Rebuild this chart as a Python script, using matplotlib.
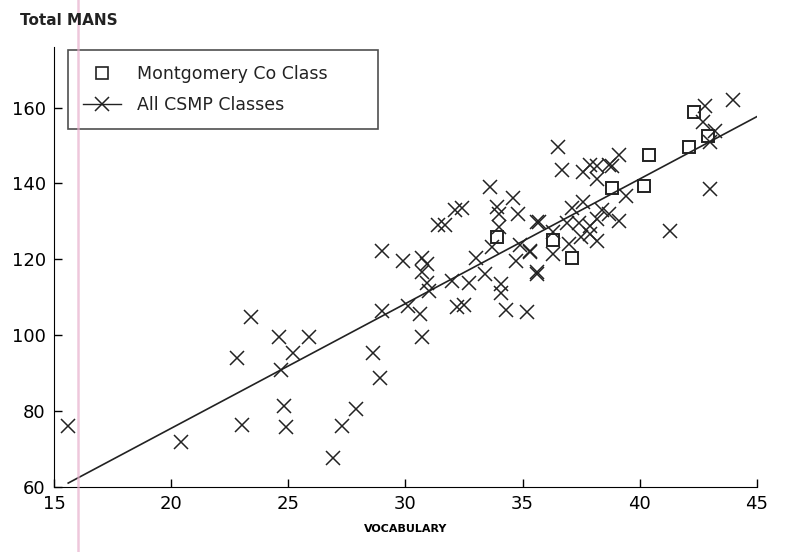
import matplotlib
matplotlib.use('Agg')
import matplotlib.pyplot as plt
from matplotlib.lines import Line2D

# Montgomery Co classes (squares)
mont_x = [33.9, 36.3, 37.1, 38.8, 40.4, 40.2, 42.1, 42.3, 42.9]
mont_y = [125.9, 125.1, 120.3, 138.8, 147.6, 139.4, 149.7, 158.9, 152.6]

# all CSMP classes (x markers)
csmp_x = [15.6, 20.4, 22.8, 23.0, 23.4, 24.6, 24.7, 24.8, 24.9, 25.2, 25.9, 26.9,
          27.3, 27.9, 28.6, 28.9, 29.0, 29.0, 29.9, 30.1, 30.7, 30.6, 30.7, 30.9,
          30.7, 30.9, 31.0, 33.6, 34.6, 32.1, 32.4, 33.9, 34.0, 34.8, 31.4, 31.7,
          34.0, 35.6, 33.7, 33.0, 32.0, 32.7, 33.4, 34.1, 34.1, 34.7, 35.3, 35.6,
          34.9, 32.2, 32.5, 34.3, 35.2, 44.0, 42.8, 42.7, 43.0, 43.2, 43.0, 41.3,
          36.5, 36.7, 37.6, 37.9, 38.2, 38.7, 39.1, 38.8, 38.2, 39.4, 37.1, 37.6,
          38.4, 38.7, 39.1, 35.7, 36.9, 37.4, 37.9, 38.2, 36.3, 37.5, 37.9, 38.2,
          37.0, 36.3, 35.3, 35.6]
csmp_y = [76.1, 71.9, 94.1, 76.4, 104.7, 99.4, 90.7, 81.4, 75.9, 95.2, 99.4, 67.7,
          76.1, 80.4, 95.2, 88.8, 122.2, 106.3, 119.5, 107.6, 99.4, 105.5, 120.3, 118.7,
          116.6, 113.7, 111.6, 139.1, 136.2, 133.0, 133.5, 133.8, 132.0, 132.0, 129.0, 129.0,
          128.5, 129.8, 123.2, 120.3, 114.2, 113.7, 116.1, 113.4, 111.1, 119.5, 121.9, 116.1,
          123.8, 107.4, 107.9, 106.6, 106.0, 162.1, 160.3, 156.3, 151.0, 153.7, 138.6, 127.5,
          149.7, 143.6, 143.1, 144.9, 144.7, 144.9, 147.6, 144.7, 141.2, 136.7, 133.5, 135.1,
          133.0, 132.0, 130.1, 129.8, 129.6, 129.6, 128.8, 130.6, 127.2, 125.9, 126.7, 124.8,
          124.0, 121.4, 122.2, 116.6]

# regression line end points
fit_x = [15.6, 45.0]
fit_y = [61.0, 157.6]

xticks = [15, 20, 25, 30, 35, 40, 45]
yticks = [60, 80, 100, 120, 140, 160]

fig = plt.figure(figsize=(7.85, 5.52), dpi=100)
ax = fig.add_axes([0.069, 0.118, 0.895, 0.797])

ax.plot(fit_x, fit_y, color='#222222', lw=1.2)
ax.plot(csmp_x, csmp_y, 'x', color='#222222', ms=9.5, mew=1.1, label='All CSMP Classes')
ax.plot(mont_x, mont_y, 's', color='#222222', ms=9, mfc='none', mew=1.4,
        label='Montgomery Co Class')

ax.set_xlim(15, 45)
ax.set_ylim(60, 176)
ax.set_xticks(xticks)
ax.set_yticks(yticks)
ax.tick_params(direction='in', length=6, labelsize=13, width=1, pad=6)
ax.spines['top'].set_visible(False)
ax.spines['right'].set_visible(False)
ax.set_xlabel('VOCABULARY', fontsize=8, fontweight='bold', labelpad=8)

# legend box stretched to the width seen in the scan
h_mont = Line2D([], [], marker='s', ls='none', color='#222222', mfc='none', ms=8, mew=1.2)
h_csmp = Line2D([], [], marker='x', ls='-', color='#222222', ms=10, mew=1.1, lw=1)
leg = ax.legend([h_mont, h_csmp], ['Montgomery Co Class', 'All CSMP Classes'],
                loc='upper left', bbox_to_anchor=(0.02, 0.811, 0.441, 0.182),
                mode='expand', fontsize=12.5,
                frameon=True, fancybox=False, edgecolor='#222222',
                handlelength=2.2, handletextpad=0.9, borderpad=0.85,
                labelspacing=0.75, borderaxespad=0)
leg.get_frame().set_linewidth(1.2)
for t in leg.get_texts():
    t.set_color('#222222')

fig.text(0.025, 0.955, 'Total MANS', fontsize=11, fontweight='bold',
         family='DejaVu Sans', color='#222222')

# pink scan line
fig.add_artist(Line2D([0.099, 0.099], [0.0, 1.0], transform=fig.transFigure,
                      color='#e8b0cc', lw=1.8, alpha=0.7))

fig.savefig('out.png', dpi=100)
